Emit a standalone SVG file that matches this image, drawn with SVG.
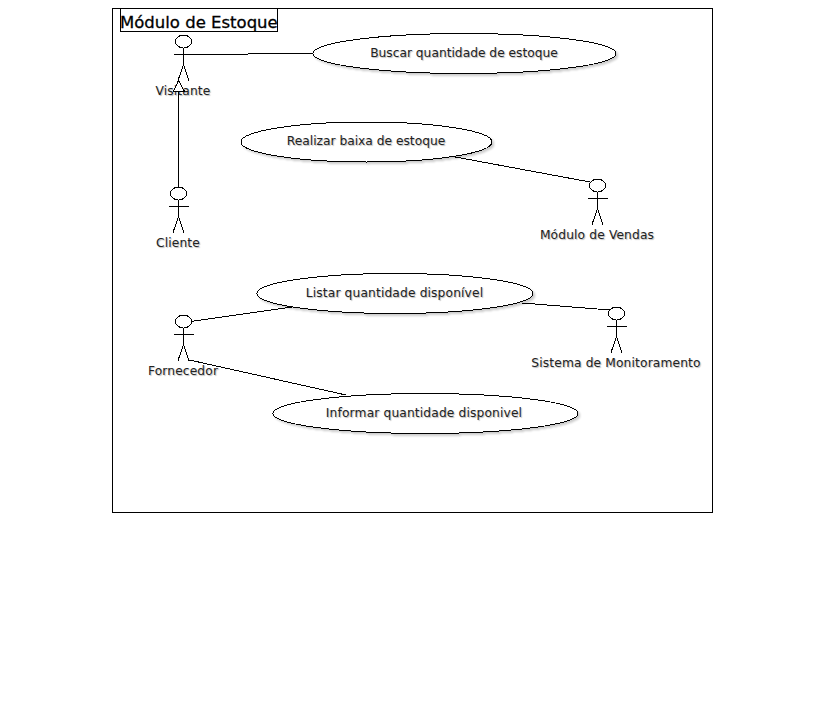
<svg xmlns="http://www.w3.org/2000/svg" width="824" height="728" viewBox="0 0 824 728">
<style>
text{font-family:"DejaVu Sans",sans-serif;font-size:12.25px;fill:#222;text-anchor:middle;text-shadow:1px 1px 1px #bbb}
.title{font-size:16.500px;text-anchor:start;text-shadow:none;fill:#000;stroke:#000;stroke-width:.3}
.w{letter-spacing:.14px}
.s{fill:none;stroke:#000;stroke-width:1;shape-rendering:crispEdges}
.f{fill:#fff;stroke:#000;stroke-width:1;shape-rendering:crispEdges}
.u{filter:drop-shadow(2px 2px 1px #ccc)}
.c line{stroke:#000;stroke-width:1;shape-rendering:crispEdges}
</style>
<defs>
<g id="actor">
<ellipse class="f" cx="0" cy="-1" rx="8" ry="6.500"/>
<path class="s" d="M0 6V22M-10 12H10M0 22L-5.500 38M0 22L5.500 38"/>
</g>
</defs>
<rect width="824" height="728" fill="#fff"/>
<g id="frame">
<rect class="s" x="112.500" y="8.500" width="600" height="504"/>
<rect class="s" x="120.500" y="8.500" width="157" height="23"/>
<text class="title" x="120" y="28">Módulo de Estoque</text>
</g>
<g id="uc-buscar"><ellipse class="f u" cx="464.500" cy="53.500" rx="151.500" ry="20"/><text x="464" y="57">Buscar quantidade de estoque</text></g>
<g id="uc-realizar"><ellipse class="f u" cx="366.500" cy="142" rx="125.500" ry="20"/><text x="366" y="145">Realizar baixa de estoque</text></g>
<g id="uc-listar"><ellipse class="f u" cx="395" cy="293.500" rx="138" ry="20"/><text class="w" x="394.500" y="297">Listar quantidade disponível</text></g>
<g id="uc-informar"><ellipse class="f u" cx="425.500" cy="413.500" rx="152.500" ry="20"/><text class="w" x="424" y="417">Informar quantidade disponivel</text></g>
<g id="a-visitante"><use href="#actor" x="183.500" y="42.500"/><text class="w" x="183" y="95">Visitante</text></g>
<g id="a-cliente"><use href="#actor" x="178.500" y="194.500"/><text class="w" x="178" y="247">Cliente</text></g>
<g id="a-vendas"><use href="#actor" x="597.500" y="186.500"/><text class="w" x="597" y="239">Módulo de Vendas</text></g>
<g id="a-fornecedor"><use href="#actor" x="183.500" y="322.500"/><text class="w" x="183" y="375">Fornecedor</text></g>
<g id="a-sistema"><use href="#actor" x="616.500" y="314.500"/><text class="w" x="616" y="367">Sistema de Monitoramento</text></g>
<g id="connectors" class="c">
<line x1="183.500" y1="54.500" x2="313" y2="53.500"/>
<line x1="178.500" y1="91.500" x2="178.500" y2="187"/>
<path class="f" d="M178.500 80.500L173.500 91.500H184.500Z"/>
<line x1="450" y1="156" x2="590" y2="182"/>
<line x1="191" y1="321.500" x2="292" y2="307"/>
<line x1="189.500" y1="360" x2="346" y2="395"/>
<line x1="522" y1="303" x2="610" y2="310"/>
</g>
</svg>
